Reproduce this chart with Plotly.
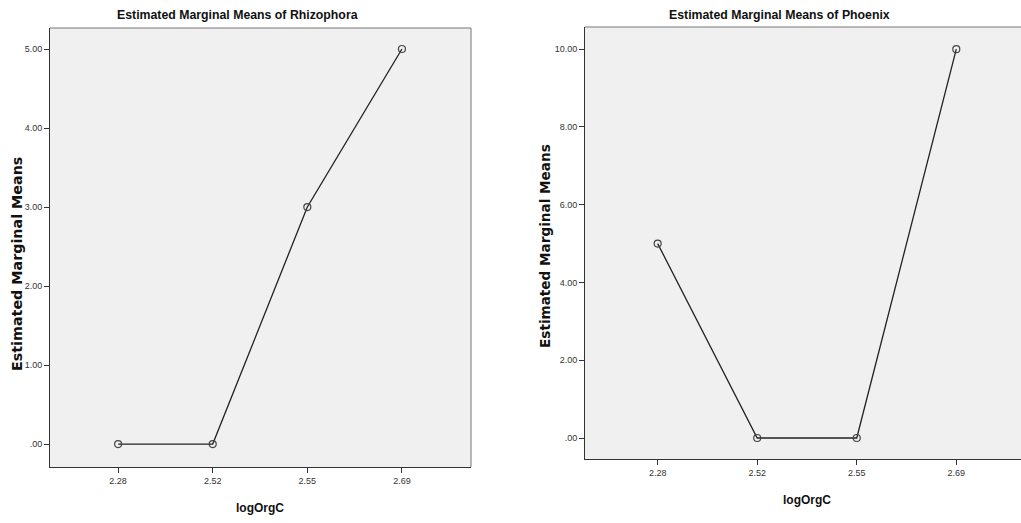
import plotly.graph_objects as go

categories = ["2.28", "2.52", "2.55", "2.69"]
rhizophora = [0.0, 0.0, 3.0, 5.0]
phoenix = [5.0, 0.0, 0.0, 10.0]
left_ticks = [0, 1, 2, 3, 4, 5]
left_ticktext = [".00", "1.00", "2.00", "3.00", "4.00", "5.00"]
right_ticks = [0, 2, 4, 6, 8, 10]
right_ticktext = [".00", "2.00", "4.00", "6.00", "8.00", "10.00"]

W, H = 1021, 523
def px_x(p): return p / W
def px_y(p): return (H - p) / H

TICKFONT = dict(family="Liberation Sans, Arial, sans-serif", size=9, color="#333333")
line_style = dict(color="#222222", width=1.3)
marker_style = dict(symbol="circle-open", size=7, color="#444444", line=dict(width=1.2))

fig = go.Figure()
fig.add_trace(go.Scatter(x=categories, y=rhizophora, mode="lines+markers",
                         line=line_style, marker=marker_style, xaxis="x", yaxis="y",
                         showlegend=False, cliponaxis=False))
fig.add_trace(go.Scatter(x=categories, y=phoenix, mode="lines+markers",
                         line=line_style, marker=marker_style, xaxis="x2", yaxis="y2",
                         showlegend=False, cliponaxis=False))

axis_common = dict(showgrid=False, zeroline=False, showline=True, linecolor="#333333",
                   linewidth=1, ticks="outside", ticklen=5, tickcolor="#333333",
                   tickwidth=1, tickfont=TICKFONT, automargin=False)

fig.update_layout(
    width=W, height=H,
    margin=dict(l=0, r=0, t=0, b=0, pad=0),
    paper_bgcolor="white",
    plot_bgcolor="#f0f0f0",
    xaxis=dict(domain=[px_x(50), px_x(471)], anchor="y", type="category",
               categoryorder="array", categoryarray=categories,
               range=[-0.72, 3.73], **axis_common),
    yaxis=dict(domain=[px_y(467), px_y(28)], anchor="x", range=[-0.29, 5.266],
               tickvals=left_ticks, ticktext=left_ticktext, **axis_common),
    xaxis2=dict(domain=[px_x(585), 1.0], anchor="y2", type="category",
                categoryorder="array", categoryarray=categories,
                range=[-0.73, 3.65], **axis_common),
    yaxis2=dict(domain=[px_y(459), px_y(27)], anchor="x2", range=[-0.54, 10.57],
                tickvals=right_ticks, ticktext=right_ticktext, **axis_common),
)

# top/right borders
fig.add_shape(type="line", xref="x domain", yref="y domain", x0=0, x1=1, y0=1, y1=1,
              line=dict(color="#777777", width=1))
fig.add_shape(type="line", xref="x domain", yref="y domain", x0=1, x1=1, y0=0, y1=1,
              line=dict(color="#777777", width=1))
fig.add_shape(type="line", xref="x2 domain", yref="y2 domain", x0=0, x1=1, y0=1, y1=1,
              line=dict(color="#777777", width=1))

TITLEFONT = dict(family="Liberation Sans, Arial, sans-serif", size=12.3, color="#111111")
XTITLEFONT = dict(family="Liberation Sans, Arial, sans-serif", size=12, color="#111111")
YTITLEFONT = dict(family="DejaVu Sans, Verdana, sans-serif", size=14, color="#111111")

annotations = [
    dict(text="<b>Estimated Marginal Means of Rhizophora</b>", x=px_x(237), y=px_y(15), font=TITLEFONT),
    dict(text="<b>Estimated Marginal Means of Phoenix</b>", x=px_x(779), y=px_y(15), font=TITLEFONT),
    dict(text="<b>logOrgC</b>", x=px_x(260), y=px_y(508), font=XTITLEFONT),
    dict(text="<b>logOrgC</b>", x=px_x(807), y=px_y(500), font=XTITLEFONT),
    dict(text="<b>Estimated Marginal Means</b>", x=px_x(17), y=px_y(264), textangle=-90,
         font=dict(YTITLEFONT, size=14.3)),
    dict(text="<b>Estimated Marginal Means</b>", x=px_x(545), y=px_y(246), textangle=-90,
         font=dict(YTITLEFONT, size=13.6)),
]
for a in annotations:
    fig.add_annotation(xref="paper", yref="paper", showarrow=False,
                       xanchor="center", yanchor="middle", **a)

fig.write_html("out.html",
               config={"displayModeBar": False},
               post_script="document.body.style.margin='0';document.body.style.overflow='hidden';")
